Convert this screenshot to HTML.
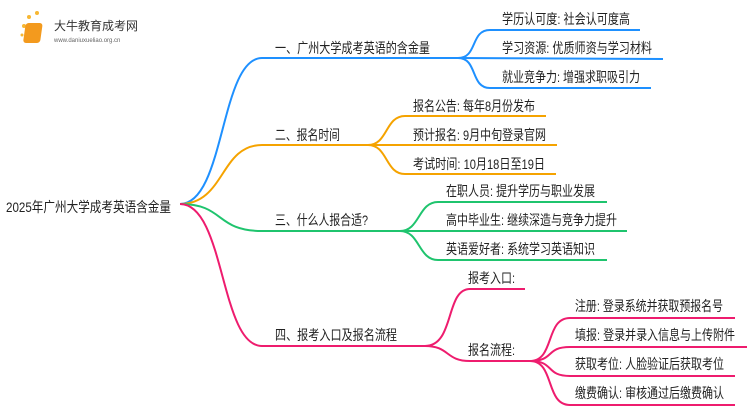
<!DOCTYPE html>
<html><head><meta charset="utf-8"><style>
body{margin:0;background:#fff;}
svg text{font-family:"Liberation Sans","Noto Sans CJK SC",sans-serif;font-size:14px;fill:#222;}
</style></head><body>
<svg width="750" height="410" xmlns="http://www.w3.org/2000/svg">
<g>
<circle cx="24" cy="26" r="2" fill="#f7b733"/><circle cx="29" cy="17" r="2" fill="#f7b733"/><circle cx="37" cy="13" r="2" fill="#f7b733"/><circle cx="22" cy="35" r="1.5" fill="#f7b733"/>
<rect x="29" y="23" width="17" height="20" rx="3" fill="#f39a1e" transform="skewX(-8)"/>
<text x="54" y="30" style="font-size:12px;fill:#333">大牛教育成考网</text>
<text x="54" y="42" style="font-size:6px;fill:#666">www.daniuxueliao.org.cn</text>
</g>
<g fill="none" stroke-width="2">
<g stroke="#1e90ff">
<path d="M180,204 C225,204 220,58 262,58 L458,58"/>
<path d="M458,58 C478,58 470,30 490,30 L640,30"/>
<path d="M458,58 L663,59"/>
<path d="M458,58 C478,58 470,88 490,88 L651,88"/>
</g>
<g stroke="#f5a300">
<path d="M180,204 C225,204 220,145 262,145 L370,145"/>
<path d="M368,145 C388,145 385,116 405,116 L546,116"/>
<path d="M368,145 L557,145"/>
<path d="M368,145 C388,145 385,174 405,174 L556,174"/>
</g>
<g stroke="#1fc46e">
<path d="M180,204 C225,204 215,231 262,231 L405,231"/>
<path d="M400,231 C420,231 418,202 438,202 L607,202"/>
<path d="M400,231 L627,231"/>
<path d="M400,231 C420,231 418,260 438,260 L607,260"/>
</g>
<g stroke="#ee1c6e">
<path d="M180,204 C225,204 220,346 262,346 L425,346"/>
<path d="M425,346 C455,346 445,289 470,289 L525,289"/>
<path d="M425,346 C450,346 445,361 470,361 L530,361"/>
<path d="M530,361 C555,361 545,318 570,318 L735,318"/>
<path d="M530,361 C555,361 545,347 570,347 L747,347"/>
<path d="M530,361 C555,361 545,376 570,376 L735,376"/>
<path d="M530,361 C555,361 545,405 570,405 L735,405"/>
</g>
</g>
<text x="6" y="212" textLength="165" lengthAdjust="spacingAndGlyphs">2025年广州大学成考英语含金量</text>
<text x="275" y="53" textLength="155" lengthAdjust="spacingAndGlyphs">一、广州大学成考英语的含金量</text>
<text x="502" y="24" textLength="128" lengthAdjust="spacingAndGlyphs">学历认可度: 社会认可度高</text>
<text x="502" y="53" textLength="150" lengthAdjust="spacingAndGlyphs">学习资源: 优质师资与学习材料</text>
<text x="502" y="82" textLength="138" lengthAdjust="spacingAndGlyphs">就业竞争力: 增强求职吸引力</text>
<text x="275" y="140" textLength="65" lengthAdjust="spacingAndGlyphs">二、报名时间</text>
<text x="413" y="111" textLength="122" lengthAdjust="spacingAndGlyphs">报名公告: 每年8月份发布</text>
<text x="413" y="140" textLength="133" lengthAdjust="spacingAndGlyphs">预计报名: 9月中旬登录官网</text>
<text x="413" y="169" textLength="132" lengthAdjust="spacingAndGlyphs">考试时间: 10月18日至19日</text>
<text x="275" y="225" textLength="93" lengthAdjust="spacingAndGlyphs">三、什么人报合适?</text>
<text x="446" y="196" textLength="149" lengthAdjust="spacingAndGlyphs">在职人员: 提升学历与职业发展</text>
<text x="446" y="225" textLength="171" lengthAdjust="spacingAndGlyphs">高中毕业生: 继续深造与竞争力提升</text>
<text x="446" y="254" textLength="149" lengthAdjust="spacingAndGlyphs">英语爱好者: 系统学习英语知识</text>
<text x="275" y="340" textLength="122" lengthAdjust="spacingAndGlyphs">四、报考入口及报名流程</text>
<text x="468" y="283" textLength="47" lengthAdjust="spacingAndGlyphs">报考入口:</text>
<text x="468" y="355" textLength="47" lengthAdjust="spacingAndGlyphs">报名流程:</text>
<text x="575" y="311" textLength="148" lengthAdjust="spacingAndGlyphs">注册: 登录系统并获取预报名号</text>
<text x="575" y="340" textLength="160" lengthAdjust="spacingAndGlyphs">填报: 登录并录入信息与上传附件</text>
<text x="575" y="369" textLength="149" lengthAdjust="spacingAndGlyphs">获取考位: 人脸验证后获取考位</text>
<text x="575" y="398" textLength="149" lengthAdjust="spacingAndGlyphs">缴费确认: 审核通过后缴费确认</text>
</svg>
</body></html>
